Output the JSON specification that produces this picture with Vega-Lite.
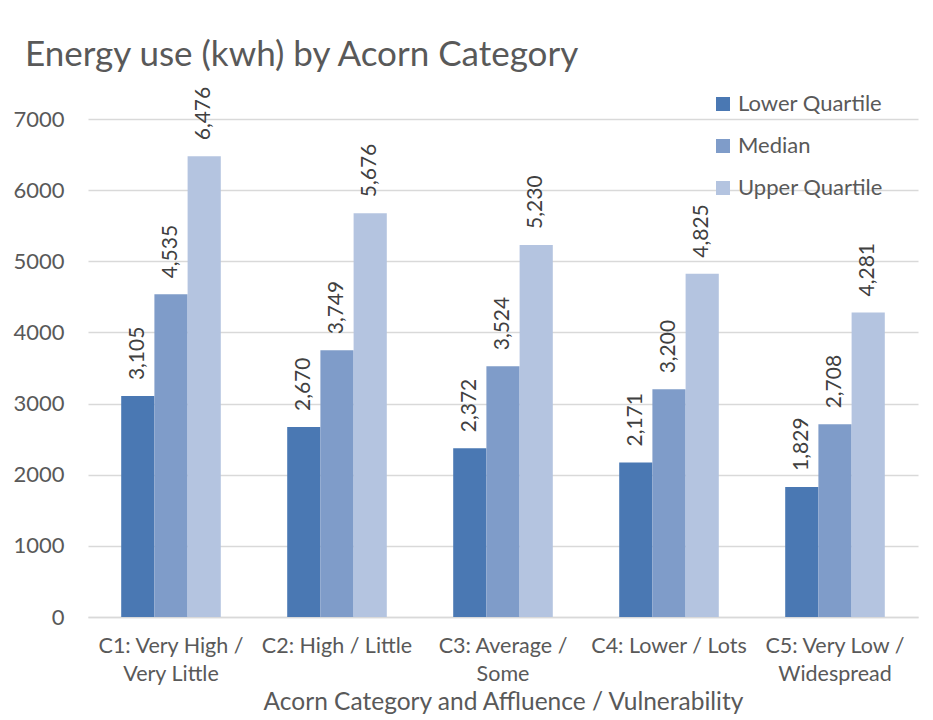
{
  "$schema": "https://vega.github.io/schema/vega-lite/v6.json",
  "width": 830,
  "height": 498,
  "autosize": {"type": "none"},
  "padding": {"left": 88, "top": 119, "right": 15, "bottom": 103},
  "background": "white",
  "config": {"view": {"stroke": null}},
  "title": {
    "text": "Energy use (kwh) by Acorn Category",
    "anchor": "start",
    "frame": "group",
    "dx": -63,
    "offset": 14,
    "font": "Lato",
    "fontSize": 35,
    "fontWeight": "normal",
    "color": "#595959"
  },
  "data": {
    "values": [
      {"cat": "C1: Very High / Very Little", "series": "Lower Quartile", "v": 3105},
      {"cat": "C1: Very High / Very Little", "series": "Median", "v": 4535},
      {"cat": "C1: Very High / Very Little", "series": "Upper Quartile", "v": 6476},
      {"cat": "C2: High / Little", "series": "Lower Quartile", "v": 2670},
      {"cat": "C2: High / Little", "series": "Median", "v": 3749},
      {"cat": "C2: High / Little", "series": "Upper Quartile", "v": 5676},
      {"cat": "C3: Average / Some", "series": "Lower Quartile", "v": 2372},
      {"cat": "C3: Average / Some", "series": "Median", "v": 3524},
      {"cat": "C3: Average / Some", "series": "Upper Quartile", "v": 5230},
      {"cat": "C4: Lower / Lots", "series": "Lower Quartile", "v": 2171},
      {"cat": "C4: Lower / Lots", "series": "Median", "v": 3200},
      {"cat": "C4: Lower / Lots", "series": "Upper Quartile", "v": 4825},
      {"cat": "C5: Very Low / Widespread", "series": "Lower Quartile", "v": 1829},
      {"cat": "C5: Very Low / Widespread", "series": "Median", "v": 2708},
      {"cat": "C5: Very Low / Widespread", "series": "Upper Quartile", "v": 4281}
    ]
  },
  "encoding": {
    "x": {
      "field": "cat",
      "type": "nominal",
      "sort": null,
      "scale": {"paddingInner": 0.4, "paddingOuter": 0.2},
      "axis": {
        "title": "Acorn Category and Affluence / Vulnerability",
        "titleFont": "Lato",
        "titleFontSize": 24.5,
        "titleFontWeight": "normal",
        "titleColor": "#595959",
        "titlePadding": 6,
        "labelAngle": 0,
        "labelFont": "Lato",
        "labelFontSize": 21.5,
        "labelColor": "#595959",
        "labelPadding": 18,
        "labelLineHeight": 28,
        "labelExpr": "datum.label == 'C1: Very High / Very Little' ? ['C1: Very High /', 'Very Little'] : datum.label == 'C3: Average / Some' ? ['C3: Average /', 'Some'] : datum.label == 'C5: Very Low / Widespread' ? ['C5: Very Low /', 'Widespread'] : datum.label",
        "ticks": false,
        "domainColor": "#d9d9d9",
        "domainWidth": 1.5
      }
    },
    "xOffset": {"field": "series", "type": "nominal", "scale": {"paddingInner": 0, "paddingOuter": 0}},
    "y": {
      "field": "v",
      "type": "quantitative",
      "scale": {"domain": [0, 7000], "nice": false},
      "axis": {
        "title": null,
        "values": [0, 1000, 2000, 3000, 4000, 5000, 6000, 7000],
        "format": "d",
        "domain": false,
        "ticks": false,
        "labelFont": "Lato",
        "labelFontSize": 22,
        "labelColor": "#595959",
        "labelPadding": 24,
        "gridColor": "#d9d9d9",
        "gridWidth": 1.5
      }
    }
  },
  "layer": [
    {
      "mark": {"type": "bar"},
      "encoding": {
        "color": {
          "field": "series",
          "type": "nominal",
          "scale": {"range": ["#4a78b3", "#7f9cc9", "#b4c4e0"]},
          "legend": {
            "title": null,
            "orient": "none",
            "legendX": 624,
            "legendY": -26,
            "symbolType": "square",
            "symbolSize": 196,
            "symbolStrokeWidth": 0,
            "labelFont": "Lato",
            "labelFontSize": 22,
            "labelColor": "#595959",
            "labelOffset": 4,
            "rowPadding": 20
          }
        }
      }
    },
    {
      "mark": {"type": "text", "angle": -90, "align": "left", "baseline": "middle", "dx": 16, "font": "Lato", "fontSize": 21, "color": "#404040"},
      "encoding": {
        "text": {"field": "v", "type": "quantitative", "format": ","}
      }
    }
  ]
}
